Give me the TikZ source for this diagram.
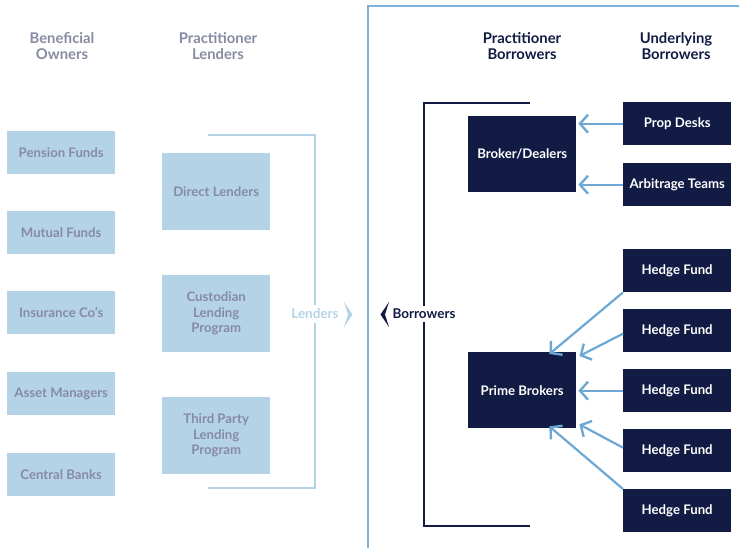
\documentclass[tikz,border=0pt]{standalone}
\usepackage{fontspec}
\setmainfont{Lato}
\usepackage{xcolor}
\usepackage{tikz}
\usetikzlibrary{positioning, calc, arrows.meta}

\definecolor{paleblue}{HTML}{B5D3E7}
\definecolor{palegray}{HTML}{868BA3}
\definecolor{navy}{HTML}{111B43}
\definecolor{midblue}{HTML}{7DB2DB}
\definecolor{arrowblue}{HTML}{6DA8D5}

\begin{document}
\begin{tikzpicture}[x=1pt, y=-1pt, font=\bfseries]
		\tikzstyle{owner}=[fill=paleblue, text=palegray, minimum width=108pt, minimum height=43pt, anchor=north west, inner sep=1pt, font=\fontsize{13.2}{15.5}\bfseries]
		\tikzstyle{lender}=[owner, minimum height=77pt, align=center]
		\tikzstyle{dealer}=[fill=navy, text=white, minimum width=108pt, minimum height=76pt, anchor=north west, inner sep=1pt, font=\fontsize{13.2}{15.5}\bfseries]
		\tikzstyle{client}=[dealer, minimum height=43pt]
		\tikzstyle{head}=[align=center, font=\fontsize{14.8}{16.5}\bfseries]
		\tikzstyle{feed}=[draw=arrowblue, line width=2.2pt, -{Straight Barb[length=8pt, width=18pt, line width=2.4pt]}]
		
		\useasboundingbox (0,0) rectangle (739,548);
		
		% headers
		\node (hOwn) at (62,46) [head, text=palegray] {Beneficial\\Owners};
		\node (hLend) at (218,46) [head, text=palegray] {Practitioner\\Lenders};
		\node (hPB) at (522,46) [head, text=navy] {Practitioner\\Borrowers};
		\node (hUB) at (676,46) [head, text=navy] {Underlying\\Borrowers};
		
		% beneficial owners
		\node (pension) at (7,131) [owner] {Pension Funds};
		\node (mutual) at (7,211) [owner] {Mutual Funds};
		\node (insur) at (7,291) [owner] {Insurance Co's};
		\node (asset) at (7,372) [owner] {Asset Managers};
		\node (central) at (7,453) [owner] {Central Banks};
		
		% practitioner lenders
		\node (direct) at (162,153) [lender] {Direct Lenders};
		\node (custod) at (162,275) [lender] {Custodian\\Lending\\Program};
		\node (third) at (162,397) [lender] {Third Party\\Lending\\Program};
		
		\node (lend) at (315,314) [text=paleblue, inner sep=4pt, font=\fontsize{13.5}{15}\bfseries] {Lenders};
		\draw[paleblue, line width=2pt] (208,135) -- (315,135) -- (lend.north);
		\draw[paleblue, line width=2pt] (lend.south) -- (315,488) -- (208,488);
		\fill[paleblue] (344,302) -- (352.5,314.5) -- (344,327) -- (348,314.5) -- cycle;
		
		% borrowers side
		\draw[midblue, line width=2pt] (368,549) -- (368,6) -- (740,6);
		
		\node (borr) at (424,314) [text=navy, inner sep=3pt, fill=white, font=\fontsize{13.5}{15}\bfseries] {Borrowers};
		\draw[navy, line width=2pt] (530,103) -- (424,103) -- (borr.north);
		\draw[navy, line width=2pt] (borr.south) -- (424,526) -- (530,526);
		\fill[navy] (389,302) -- (380.5,314.5) -- (389,327) -- (385,314.5) -- cycle;
		
		\node (broker) at (468,116) [dealer] {Broker/Dealers};
		\node (prime) at (468,352) [dealer] {Prime Brokers};
		
		\node (prop) at (623,102) [client] {Prop Desks};
		\node (arb) at (623,163) [client] {Arbitrage Teams};
		\node (hf1) at (623,249) [client] {Hedge Fund};
		\node (hf2) at (623,309) [client] {Hedge Fund};
		\node (hf3) at (623,369) [client] {Hedge Fund};
		\node (hf4) at (623,429) [client] {Hedge Fund};
		\node (hf5) at (623,489) [client] {Hedge Fund};
		
		\draw[feed] (prop.west) -- ([xshift=2pt]prop.west -| broker.east);
		\draw[feed] (arb.west) -- ([xshift=2pt]arb.west -| broker.east);
		\draw[feed] (hf1.south west) -- ([xshift=-27pt,yshift=-2pt]prime.north east);
		\draw[feed] ([yshift=-3pt]hf2.west) -- ([xshift=3pt,yshift=-4pt]prime.north east);
		\draw[feed] (hf3.west) -- ([xshift=2pt]hf3.west -| prime.east);
		\draw[feed] ([yshift=3pt]hf4.west) -- ([xshift=3pt,yshift=4pt]prime.south east);
		\draw[feed] (hf5.north west) -- ([xshift=-27pt,yshift=2pt]prime.south east);
		
		\end{tikzpicture}
\end{document}
